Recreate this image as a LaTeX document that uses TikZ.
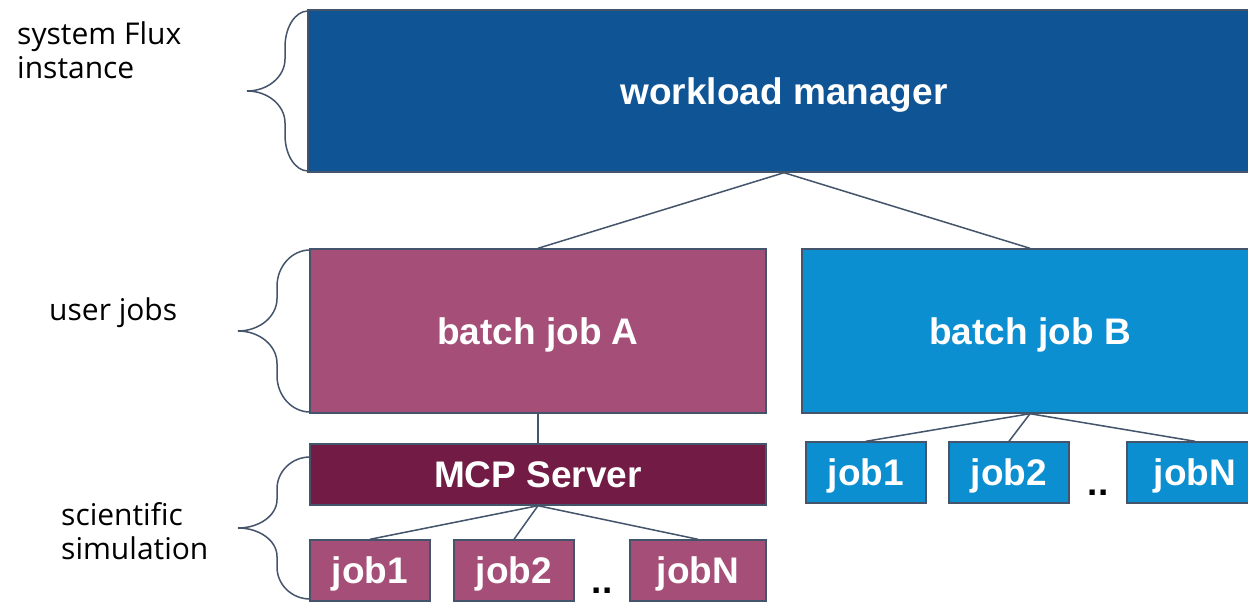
\documentclass[tikz,border=0pt]{standalone}
\usepackage{fontspec}
\setmainfont{Liberation Sans}
\newfontfamily\tierfont{Open Sans}
\definecolor{wmblue}{RGB}{15,84,149}
\definecolor{jobpink}{RGB}{165,79,120}
\definecolor{jobblue}{RGB}{11,143,208}
\definecolor{mcpwine}{RGB}{114,27,69}
\definecolor{slate}{RGB}{68,84,106}
\tikzset{
  box/.style={draw=slate, line width=1.4bp, inner sep=0pt, text=white,
    text height=26.6bp, text depth=0pt,
    font=\fontsize{37bp}{44bp}\selectfont\bfseries},
  link/.style={draw=slate, line width=1.5bp},
  bracket/.style={draw=slate, line width=1.5bp},
  tier/.style={anchor=base west, align=left, inner sep=0pt,
    font=\tierfont\fontsize{30bp}{34bp}\selectfont},
  dots/.style={inner sep=0pt, font=\fontsize{37bp}{44bp}\selectfont\bfseries}
}
% left curly brace: #1 end x, #2 top y, #3 bottom y, #4 spine x, #5 tip x
\newcommand{\leftbrace}[5]{%
  \pgfmathsetmacro{\yc}{(#2+#3)/2}%
  \pgfmathsetmacro{\hh}{(#3-#2)/2}%
  \pgfmathsetmacro{\ha}{0.45*\hh}%
  \pgfmathsetmacro{\hb}{0.40*\hh}%
  \pgfmathsetmacro{\wa}{#1-#4}%
  \pgfmathsetmacro{\wb}{#4-#5}%
  \draw[bracket]
    (#1,#2) .. controls ({#1-0.552*\wa},#2) and (#4,{#2+0.448*\ha}) .. (#4,{#2+\ha})
    -- (#4,{\yc-\hb})
    .. controls (#4,{\yc-0.448*\hb}) and ({#5+0.552*\wb},\yc) .. (#5,\yc)
    .. controls ({#5+0.552*\wb},\yc) and (#4,{\yc+0.448*\hb}) .. (#4,{\yc+\hb})
    -- (#4,{#3-\ha})
    .. controls (#4,{#3-0.448*\ha}) and ({#1-0.552*\wa},#3) .. (#1,#3);}
\begin{document}
\begin{tikzpicture}[x=1bp,y=-1bp]
\clip (0,0) rectangle (1248,602);
\fill[white] (0,0) rectangle (1248,602);

% tier labels (anchored at the baseline of their last line)
\node[tier] (lsys) at (17,79) {system Flux\\instance};
\node[tier] (luser) at (49,321) {user jobs};
\node[tier] (lsci) at (61,559) {scientific\\simulation};

% boxes
\node[box, fill=wmblue, minimum width=952bp, minimum height=162bp] (wm) at (784,91) {workload manager};
\node[box, fill=jobpink, minimum width=456bp, minimum height=164bp] (ba) at (538,331) {batch job A};
\node[box, fill=jobblue, minimum width=456bp, minimum height=164bp] (bb) at (1030,331) {batch job B};
\node[box, fill=mcpwine, minimum width=456bp, minimum height=61bp] (mcp) at (538,474.5) {MCP Server};

\node[box, fill=jobpink, minimum width=120bp, minimum height=61bp] (a1) at (370,570.5) {job1};
\node[box, fill=jobpink, minimum width=120bp, minimum height=61bp] (a2) at (514,570.5) {job2};
\node[box, fill=jobpink, minimum width=136bp, minimum height=61bp] (an) at (698,570.5) {jobN};
\node[dots] (adots) at (602,591) {..};

\node[box, fill=jobblue, minimum width=120bp, minimum height=61bp] (b1) at (866,472.5) {job1};
\node[box, fill=jobblue, minimum width=120bp, minimum height=61bp] (b2) at (1009,472.5) {job2};
\node[box, fill=jobblue, minimum width=136bp, minimum height=61bp] (bn) at (1195,472.5) {jobN};
\node[dots] (bdots) at (1098,493) {..};

% connectors
\draw[link] (wm.south) -- (ba.north);
\draw[link] (wm.south) -- (bb.north);
\draw[link] (ba.south) -- (mcp.north);
\draw[link] (mcp.south) -- (a1.north);
\draw[link] (mcp.south) -- (a2.north);
\draw[link] (mcp.south) -- (an.north);
\draw[link] (bb.south) -- (b1.north);
\draw[link] (bb.south) -- (b2.north);
\draw[link] (bb.south) -- (bn.north);

% braces
\leftbrace{308}{11}{171}{285}{247}
\leftbrace{310}{250}{412}{277}{238}
\leftbrace{310}{457}{599}{277}{238}
\end{tikzpicture}
\end{document}
